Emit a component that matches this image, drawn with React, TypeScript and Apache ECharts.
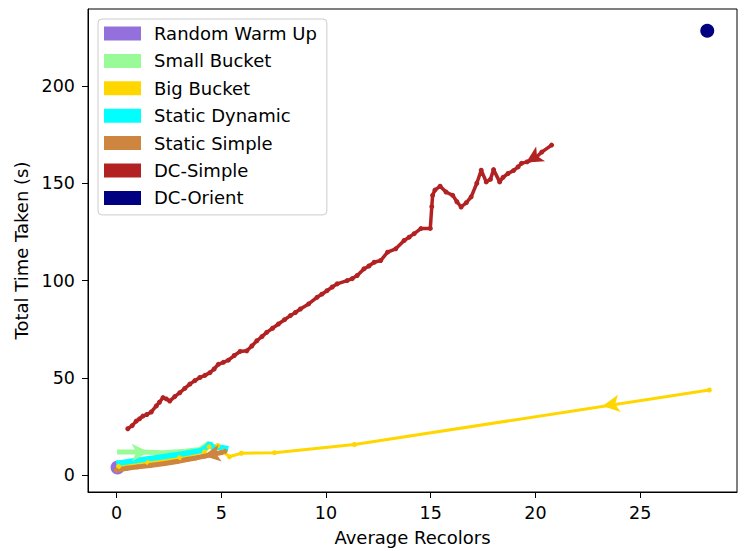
import React, { useEffect, useRef } from "react";
import * as echarts from "echarts";

// ---------- data ----------
const xTicks = [0, 5, 10, 15, 20, 25];
const yTicks = [0, 50, 100, 150, 200];

const seriesNames = [
  "Random Warm Up",
  "Small Bucket",
  "Big Bucket",
  "Static Dynamic",
  "Static Simple",
  "DC-Simple",
  "DC-Orient",
];
const seriesColors = ["#9370DB", "#98FB98", "#FFD700", "#00FFFF", "#CD853F", "#B22222", "#000080"];

const randomWarmUpX = [0.05];
const randomWarmUpY = [4.0];

const smallBucketX = [0.03, 1.2, 2.2, 3.3, 4.0, 4.38, 4.6];
const smallBucketY = [12.0, 12.0, 11.6, 12.3, 13.3, 16.3, 14.8];

const bigBucketX = [0.1, 1.5, 3.0, 4.2, 4.42, 4.84, 5.1, 5.39, 5.96, 7.54, 11.36, 28.3];
const bigBucketY = [4.5, 6.5, 9.0, 12.0, 14.6, 15.3, 12.0, 9.5, 11.3, 11.6, 15.8, 43.8];

const staticDynamicX = [-0.01, 1.02, 2.14, 3.26, 4.06, 4.3, 4.46, 4.62, 4.86, 5.34];
const staticDynamicY = [6.0, 7.7, 9.4, 11.2, 12.8, 14.5, 16.3, 14.0, 14.5, 13.6];

const staticSimpleX = [-0.01, 0.5, 1.02, 1.6, 2.3, 2.9, 3.42, 3.8, 4.22, 4.6, 5.02, 5.18];
const staticSimpleY = [2.6, 3.6, 4.3, 5.0, 6.0, 7.1, 8.2, 8.9, 9.9, 10.8, 11.7, 12.3];

const dcSimpleX = [
  0.54, 0.75, 0.94, 1.1, 1.26, 1.45, 1.66, 1.9, 2.05, 2.22, 2.38, 2.54, 2.78, 3.02, 3.26, 3.5,
  3.74, 3.98, 4.22, 4.46, 4.66, 4.86, 5.1, 5.34, 5.62, 5.9, 6.22, 6.46, 6.7, 6.94, 7.17, 7.45,
  7.73, 8.02, 8.3, 8.54, 8.78, 9.17, 9.57, 9.8, 10.05, 10.3, 10.53, 11.01, 11.25, 11.49, 11.81,
  12.05, 12.3, 12.61, 12.94, 13.33, 13.73, 13.97, 14.21, 14.53, 14.98, 15.05, 15.09, 15.2,
  15.45, 15.73, 16.05, 16.25, 16.45, 16.7, 16.93, 17.2, 17.41, 17.65, 17.85, 18.0, 18.29,
  18.45, 18.69, 18.95, 19.17, 19.33, 19.6, 19.95, 20.3, 20.77,
];
const dcSimpleY = [
  23.9, 25.5, 27.8, 29.0, 30.4, 31.2, 32.5, 35.6, 37.5, 39.9, 39.2, 38.1, 40.4, 42.4, 44.6, 46.8,
  48.6, 50.2, 51.3, 52.7, 54.6, 57.0, 58.0, 59.1, 61.5, 63.6, 63.9, 66.4, 69.1, 71.2, 73.4, 75.5,
  77.7, 79.9, 82.0, 83.6, 85.4, 88.0, 91.4, 93.0, 94.8, 96.7, 98.3, 100.0, 101.0, 102.6, 106.0,
  107.5, 109.4, 110.3, 114.6, 116.3, 120.6, 122.3, 124.1, 126.7, 126.8, 138.0, 143.8, 146.5,
  148.5, 145.5, 143.8, 140.5, 137.8, 140.0, 143.0, 150.0, 156.7, 150.7, 152.0, 157.0, 150.7,
  153.0, 155.0, 156.5, 158.4, 160.2, 161.0, 162.4, 166.0, 169.6,
];

const dcOrientX = [28.2];
const dcOrientY = [228.3];

// direction markers (arrow heads): position and rotation per series
const arrowSmallBucket = { x: 1.55, y: 12.0, rotate: -88 };
const arrowBigBucket = { x: 23.2, y: 35.6, rotate: 98.6 };
const arrowStaticSimple = { x: 4.15, y: 10.0, rotate: 99.6 };
const arrowDcSimple = { x: 19.55, y: 160.6, rotate: 121 };

const xMin = -1.36;
const xMax = 29.62;
const yMin = -8.6;
const yMax = 239.5;

const zip = (xs: number[], ys: number[]) => xs.map((x, i) => [x, ys[i]]);

const FONT = "DejaVu Sans";

function arrowMark(a: { x: number; y: number; rotate: number }, color: string) {
  return {
    symbol: "arrow",
    symbolSize: [13, 17],
    silent: true,
    label: { show: false },
    itemStyle: { color, opacity: 1 },
    data: [{ coord: [a.x, a.y], symbolRotate: a.rotate }],
  };
}

export default function App() {
  const ref = useRef<HTMLDivElement>(null);

  useEffect(() => {
    document.body.style.margin = "0";
    if (!ref.current) return;
    const chart = echarts.init(ref.current, null, { renderer: "svg" });

    const lineBase = (name: string, color: string, data: number[][], lw: number, sym: number) => ({
      name,
      type: "line",
      data,
      color,
      smooth: false,
      showSymbol: sym > 0,
      symbol: "circle",
      symbolSize: sym,
      itemStyle: { color, opacity: 1 },
      lineStyle: { color, width: lw },
      emphasis: { disabled: true },
    });

    const option: any = {
      animation: false,
      backgroundColor: "#ffffff",
      grid: {
        left: 88,
        top: 9,
        right: 11,
        bottom: 59,
        show: true,
        borderColor: "#000",
        borderWidth: 1,
        backgroundColor: "transparent",
      },
      legend: {
        orient: "vertical",
        left: 98,
        top: 19,
        icon: "rect",
        itemWidth: 37,
        itemHeight: 14,
        itemGap: 9.4,
        padding: [5.5, 10, 8, 6],
        backgroundColor: "rgba(255,255,255,0.8)",
        borderColor: "#cccccc",
        borderWidth: 1,
        borderRadius: 4,
        itemStyle: { borderWidth: 0, opacity: 1 },
        textStyle: { fontFamily: FONT, fontSize: 18, color: "#000", padding: [0, 0, 0, 8] },
        data: seriesNames,
      },
      xAxis: {
        type: "value",
        min: xMin,
        max: xMax,
        name: "Average Recolors",
        nameLocation: "middle",
        nameGap: 36,
        nameTextStyle: { fontFamily: FONT, fontSize: 18, color: "#000" },
        splitLine: { show: false },
        axisLine: { show: true, onZero: false, lineStyle: { color: "#000", width: 1 } },
        axisTick: { show: true, length: 6, lineStyle: { color: "#000" }, customValues: xTicks },
        axisLabel: { fontFamily: FONT, fontSize: 17.5, color: "#000", margin: 12, customValues: xTicks },
      },
      yAxis: {
        type: "value",
        min: yMin,
        max: yMax,
        name: "Total Time Taken (s)",
        nameLocation: "middle",
        nameGap: 55,
        nameRotate: 90,
        nameTextStyle: { fontFamily: FONT, fontSize: 18, color: "#000" },
        splitLine: { show: false },
        axisLine: { show: true, onZero: false, lineStyle: { color: "#000", width: 1 } },
        axisTick: { show: true, length: 6, lineStyle: { color: "#000" }, customValues: yTicks },
        axisLabel: { fontFamily: FONT, fontSize: 17.5, color: "#000", margin: 13, customValues: yTicks },
      },
      series: [
        {
          name: seriesNames[0],
          type: "scatter",
          data: zip(randomWarmUpX, randomWarmUpY),
          symbolSize: 14,
          itemStyle: { color: seriesColors[0], opacity: 1 },
          emphasis: { disabled: true },
        },
        {
          ...lineBase(seriesNames[1], seriesColors[1], zip(smallBucketX, smallBucketY), 5, 0),
          markPoint: arrowMark(arrowSmallBucket, seriesColors[1]),
        },
        {
          ...lineBase(seriesNames[2], seriesColors[2], zip(bigBucketX, bigBucketY), 3, 5),
          markPoint: arrowMark(arrowBigBucket, seriesColors[2]),
        },
        lineBase(seriesNames[3], seriesColors[3], zip(staticDynamicX, staticDynamicY), 5.5, 0),
        {
          ...lineBase(seriesNames[4], seriesColors[4], zip(staticSimpleX, staticSimpleY), 5, 5),
          markPoint: arrowMark(arrowStaticSimple, seriesColors[4]),
        },
        {
          ...lineBase(seriesNames[5], seriesColors[5], zip(dcSimpleX, dcSimpleY), 3.5, 5),
          markPoint: arrowMark(arrowDcSimple, seriesColors[5]),
        },
        {
          name: seriesNames[6],
          type: "scatter",
          data: zip(dcOrientX, dcOrientY),
          symbolSize: 14,
          itemStyle: { color: seriesColors[6], opacity: 1 },
          emphasis: { disabled: true },
        },
      ],
    };

    chart.setOption(option);
    return () => chart.dispose();
  }, []);

  return <div ref={ref} style={{ width: 748, height: 551 }} />;
}
